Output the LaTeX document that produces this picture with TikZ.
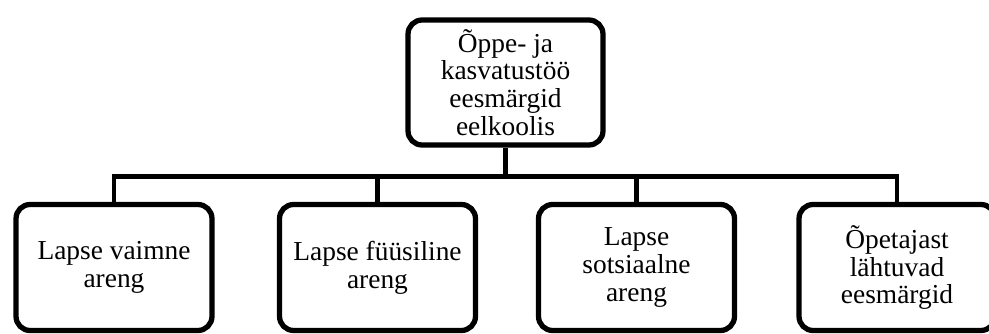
\documentclass[tikz,border=0pt]{standalone}
\usepackage{fontspec}
\setmainfont{Liberation Serif}
\tikzset{
  goalbox/.style={draw, line width=3pt, rounded corners=8pt, align=center,
    minimum width=3.92cm, minimum height=2.52cm, inner sep=2pt,
    font=\fontsize{15.6}{15.8}\selectfont},
  link/.style={line width=2.8pt}
}

\begin{document}
\begin{tikzpicture}[x=0.02cm, y=-0.02cm]
\useasboundingbox (0, 0) rectangle (989, 334);

\node[goalbox, minimum width=3.9cm, minimum height=2.5cm] (top) at (505.5, 82.5)
{Õppe- ja\\kasvatustöö\\eesmärgid\\eelkoolis};

\node[goalbox] (vaimne) at (114, 267.5) {Lapse vaimne\\areng};
\node[goalbox] (fyysiline) at (377.5, 267.5) {Lapse füüsiline\\areng};
\node[goalbox] (sotsiaalne) at (636.5, 267.5) {Lapse\\sotsiaalne\\areng};
\node[goalbox] (opetaja) at (897, 267.5) {Õpetajast\\lähtuvad\\eesmärgid};

\coordinate (bus) at (505.5, 176.5);

\draw[link] (top.south) -- (top.south |- bus);
\draw[link] (vaimne.north) -- (vaimne.north |- bus) -- (opetaja.north |- bus)
  -- (opetaja.north);
\foreach \n in {fyysiline, sotsiaalne}
\draw[link] (\n.north) -- (\n.north |- bus);

\end{tikzpicture}
\end{document}
